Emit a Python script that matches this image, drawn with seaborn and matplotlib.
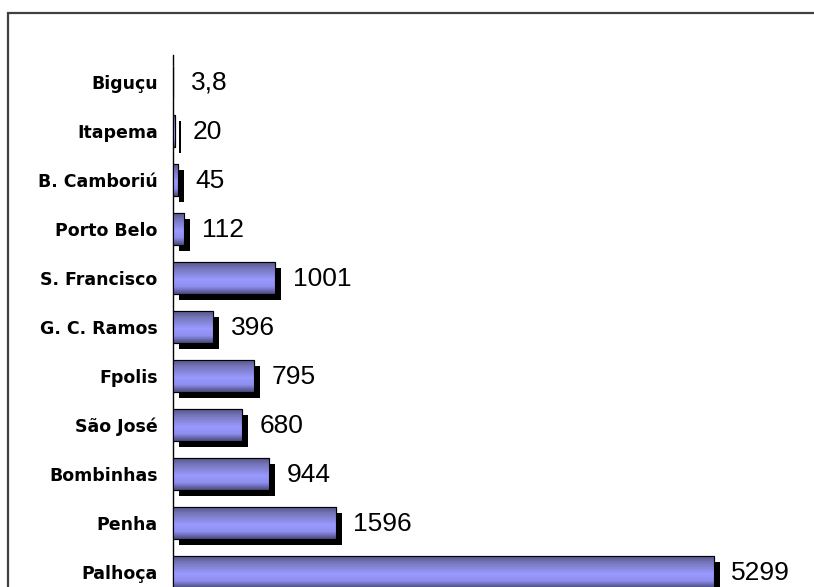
import numpy as np
import pandas as pd
import seaborn as sns
import matplotlib
matplotlib.use("Agg")
import matplotlib.pyplot as plt
import matplotlib.patheffects as pe
from matplotlib.colors import LinearSegmentedColormap
from matplotlib.patches import Rectangle

# Data
cities = ["Biguçu", "Itapema", "B. Camboriú", "Porto Belo", "S. Francisco",
          "G. C. Ramos", "Fpolis", "São José", "Bombinhas", "Penha", "Palhoça"]
values = [3.8, 20, 45, 112, 1001, 396, 795, 680, 944, 1596, 5299]
value_labels = ["3,8", "20", "45", "112", "1001", "396", "795", "680", "944", "1596", "5299"]

df = pd.DataFrame({"cidade": cities, "valor": values})

sns.set_theme(style="white")
plt.rcParams["font.family"] = ["Liberation Sans", "DejaVu Sans"]

W, H = 814, 587
fig = plt.figure(figsize=(W / 100, H / 100), dpi=100)
fig.patch.set_facecolor("white")

# Axes placed so that the lowest bar runs off the bottom edge
ax_left, ax_top = 173 / W, 1 - 55 / H
ax_w = 612.6 / W
ax_h = 546.35 / H
ax = fig.add_axes([ax_left, ax_top - ax_h, ax_w, ax_h])

sns.barplot(data=df, x="valor", y="cidade", orient="h", width=0.65,
            color="#9999ff", saturation=1, edgecolor="black", linewidth=0.8,
            ax=ax, zorder=2)

ax.set_xlim(0, 6000)
ax.set_ylim(10.6, -0.55)

# Vertical gradient for the bar faces
grad_cmap = LinearSegmentedColormap.from_list(
    "barshade",
    [(0.0, "#55558c"), (0.18, "#7474b8"), (0.55, "#9999ff"),
     (0.78, "#8e8eee"), (1.0, "#4a4a7c")])
grad = np.linspace(0, 1, 64).reshape(-1, 1)

for patch in ax.patches:
    patch.set_path_effects([
        pe.SimplePatchShadow(offset=(4.3, -4.3), shadow_rgbFace="black", alpha=1.0),
        pe.Normal()])
    x0, y0 = patch.get_x(), patch.get_y()
    w, h = patch.get_width(), patch.get_height()
    im = ax.imshow(grad, cmap=grad_cmap, aspect="auto", interpolation="bilinear",
                   extent=(x0, x0 + w, y0 + h, y0), zorder=3)
    im.set_clip_path(patch)
    ax.add_patch(Rectangle((x0, y0), w, h, fill=False, edgecolor="black",
                           linewidth=0.8, zorder=4))

ax.set_xlim(0, 6000)
ax.set_ylim(10.6, -0.55)

# Value labels to the right of each bar
for i, (v, lab) in enumerate(zip(values, value_labels)):
    ax.annotate(lab, xy=(v, i), xytext=(12.5, -0.5), textcoords="offset points",
                ha="left", va="center", fontsize=19, color="black")

ax.set_xlabel("")
ax.set_ylabel("")
ax.set_xticks([])
ax.tick_params(axis="y", length=0, pad=11)
for lbl in ax.get_yticklabels():
    lbl.set_fontweight("bold")
    lbl.set_fontsize(12.5)
    lbl.set_family("DejaVu Sans")
    lbl.set_color("black")

for side in ["top", "right", "bottom"]:
    ax.spines[side].set_visible(False)
ax.spines["left"].set_color("black")
ax.spines["left"].set_linewidth(1.0)
ax.set_facecolor("white")

# Outer frame of the chart area
fig.add_artist(Rectangle((8 / W, -0.05), 1.1, 1 - 13 / H + 0.05,
                         transform=fig.transFigure, fill=False,
                         edgecolor="#404040", linewidth=1.6))

fig.savefig("out.png", dpi=100, facecolor="white")
